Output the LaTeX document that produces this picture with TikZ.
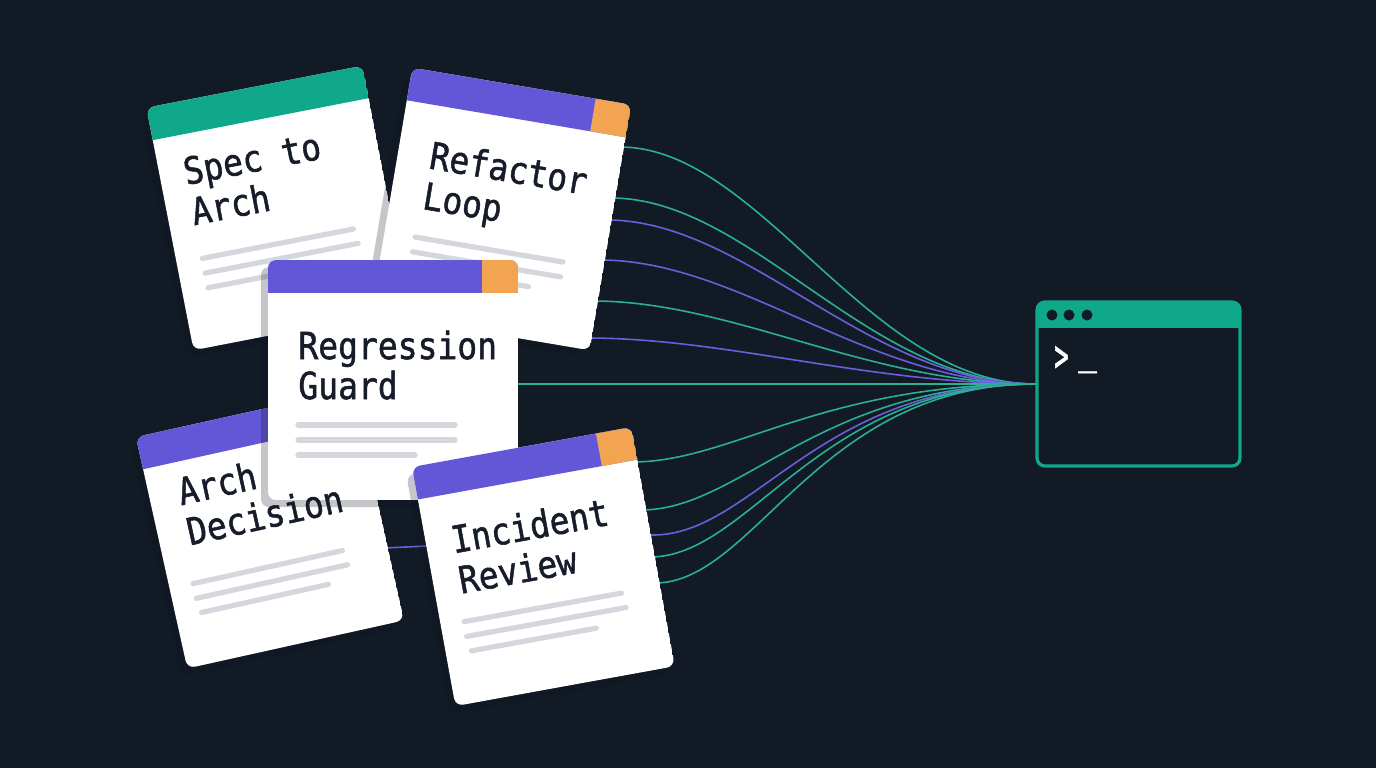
\documentclass[tikz,border=0pt]{standalone}
\usepackage{fontspec}
\newfontfamily\monofont[FakeBold=1.4]{DejaVu Sans Mono}
\newfontfamily\promptfont[FakeBold=2]{DejaVu Sans Mono}
\definecolor{bgc}{HTML}{121A26}
\definecolor{tealc}{HTML}{10A88B}
\definecolor{purpc}{HTML}{6357D8}
\definecolor{orangec}{HTML}{F2A451}
\definecolor{inkc}{HTML}{161C29}
\definecolor{lineg}{HTML}{D4D7DC}
\definecolor{shadowc}{HTML}{0A1220}
\definecolor{flowteal}{HTML}{2AAE95}
\definecolor{flowpurp}{HTML}{6B5EDA}
\newcommand\cardbase[7]{%
\begin{scope}[shift={(#1,#2)},rotate=#3]
 \fill[shadowc,opacity=0.24,rounded corners=4pt] (-#4-7,-#5+7) rectangle (#4-7,#5+7);
 \begin{scope}
  \clip[rounded corners=4pt] (-#4,-#5) rectangle (#4,#5);
  \fill[white] (-#4,-#5) rectangle (#4,#5);
  \fill[#6] (-#4,-#5) rectangle (#4,-#5+33);
  \fill[orangec] (#4-#7,-#5) rectangle (#4,-#5+33);
 \end{scope}
\end{scope}}
\begin{document}
\begin{tikzpicture}[x=0.5pt,y=-0.5pt,
  title/.style={font=\monofont\fontsize{16.5}{20}\selectfont, text=inkc, anchor=base west, inner sep=0pt, transform shape, yscale=1.13},
  txtline/.style={draw=lineg, line width=2.6pt, line cap=round},
  flowT/.style={draw=flowteal, line width=0.8pt},
  flowP/.style={draw=flowpurp, line width=0.8pt},
  prompttxt/.style={font=\promptfont\fontsize{17}{20}\selectfont, text=white, anchor=base west, inner sep=0pt},
  tdot/.style={circle, fill=bgc, minimum size=5.5pt, inner sep=0pt}]
\fill[bgc] (0,0) rectangle (1376,768);
\useasboundingbox (0,0) rectangle (1376,768);

% terminal
\begin{scope}
 \clip[rounded corners=4pt] (1037,302) rectangle (1240,466);
 \fill[tealc] (1037,302) rectangle (1240,328);
\end{scope}
\node[draw=tealc, line width=1.6pt, rounded corners=4pt, minimum width=101.5pt, minimum height=82pt, inner sep=0pt] (term) at (1138.5,384) {};
\node[tdot] (dot1) at (1052,315) {};
\node[tdot] (dot2) at (1069,315) {};
\node[tdot] (dot3) at (1087,315) {};
\node[prompttxt, xscale=0.7, yscale=1.3] (prompt) at (1054,371) {>};
\node[prompttxt, xscale=0.9] (cursor) at (1078,365) {\_};

% connector start points
\coordinate (rf1) at (620,147);
\coordinate (rf2) at (611,198);
\coordinate (rf3) at (607,220);
\coordinate (rf4) at (600,260);
\coordinate (rf5) at (593,301);
\coordinate (rf6) at (587,338);
\coordinate (rg1) at (512,384);
\coordinate (in1) at (632,462);
\coordinate (in2) at (641,510);
\coordinate (ar1) at (385,548);
\coordinate (in4) at (650,557);
\coordinate (in5) at (655,583);

\draw[flowT] (rf1) .. controls +(140,0) and +(-167,0) .. (term.west);
\draw[flowT] (rf2) .. controls +(140,0) and +(-167,0) .. (term.west);
\draw[flowP] (rf3) .. controls +(140,0) and +(-167,0) .. (term.west);
\draw[flowP] (rf4) .. controls +(140,0) and +(-167,0) .. (term.west);
\draw[flowT] (rf5) .. controls +(140,0) and +(-167,0) .. (term.west);
\draw[flowP] (rf6) .. controls +(140,0) and +(-167,0) .. (term.west);
\draw[flowT] (rg1) -- (term.west);
\draw[flowT] (in1) .. controls +(100,0) and +(-217,0) .. (term.west);
\draw[flowT] (in2) .. controls +(100,0) and +(-217,0) .. (term.west);
\draw[flowP] (ar1) -- (653,535) .. controls +(100,0) and +(-217,0) .. (term.west);
\draw[flowT] (in4) .. controls +(100,0) and +(-217,0) .. (term.west);
\draw[flowT] (in5) .. controls +(100,0) and +(-217,0) .. (term.west);

% Spec to Arch
\cardbase{278}{208}{11}{110}{123.5}{tealc}{0}
\begin{scope}[shift={(278,208)},rotate=11]
 \node[title] (spec1) at (-86,-40) {Spec to};
 \node[title] (spec2) at (-86,1) {Arch};
 \draw[txtline] (-84,35) -- (70,35);
 \draw[txtline] (-84,50) -- (72,50);
 \draw[txtline] (-84,65) -- (40,65);
\end{scope}

% Refactor Loop
\cardbase{501}{209}{-9.6}{111}{124.5}{purpc}{36}
\begin{scope}[shift={(501,209)},rotate=-9.6]
 \node[title] (ref1) at (-79,-28) {Refactor};
 \node[title] (ref2) at (-79,13) {Loop};
 \draw[txtline] (-80,42) -- (70,42);
 \draw[txtline] (-80,57) -- (70,57);
 \draw[txtline] (-80,72) -- (40,72);
\end{scope}

% Arch Decision (body)
\cardbase{270}{528.7}{12.5}{111}{118.5}{purpc}{36}
\begin{scope}[shift={(270,528.7)},rotate=12.5]
 \draw[txtline] (-87,37) -- (66,37);
 \draw[txtline] (-87,52) -- (68,52);
 \draw[txtline] (-85,67) -- (45,67);
\end{scope}

% Regression Guard
\cardbase{393}{380}{0}{125}{120}{purpc}{36}
\begin{scope}[shift={(393,380)}]
 \node[title] (reg1) at (-95,-21) {Regression};
 \node[title] (reg2) at (-95,19) {Guard};
 \draw[txtline] (-95,45) -- (62,45);
 \draw[txtline] (-95,60) -- (62,60);
 \draw[txtline] (-95,75) -- (22,75);
\end{scope}

% Arch Decision (title)
\begin{scope}[shift={(270,528.7)},rotate=12.5]
 \node[title] (arc1) at (-82,-42) {Arch};
 \node[title] (arc2) at (-82,-1) {Decision};
\end{scope}

% Incident Review
\cardbase{543.4}{566.6}{10.3}{111.5}{121.5}{purpc}{36}
\begin{scope}[shift={(543.4,566.6)},rotate=10.3]
 \node[title] (inc1) at (-86,-29) {Incident};
 \node[title] (inc2) at (-86,12) {Review};
 \draw[txtline] (-88,40) -- (72,40);
 \draw[txtline] (-88,55) -- (74,55);
 \draw[txtline] (-86,70) -- (41,70);
\end{scope}
\end{tikzpicture}
\end{document}
